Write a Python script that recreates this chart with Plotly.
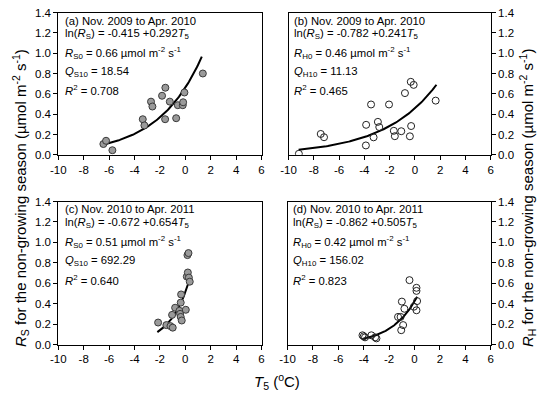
import numpy as np
import plotly.graph_objects as go

W, H = 550, 395          # browser window size
OFF = 8                  # default page (body) margin in the browser
FW, FH = W - OFF, H - OFF

# ---- data ----
a_T = [-6.45, -6.24, -5.74, -3.35, -3.22, -2.70, -2.59, -1.83, -1.57, -1.59, -1.22, -0.72, -0.59, -0.20, -0.17, -0.07, 1.38]
a_R = [0.106, 0.138, 0.045, 0.350, 0.289, 0.523, 0.475, 0.581, 0.660, 0.350, 0.523, 0.360, 0.488, 0.488, 0.517, 0.613, 0.800]

b_T = [-9.18, -7.45, -7.19, -3.47, -3.86, -3.88, -3.27, -2.93, -2.82, -2.05, -1.67, -1.59, -1.08, -0.79, -0.40, -0.30, -0.33, -0.10, 1.64]
b_R = [0.010, 0.205, 0.173, 0.495, 0.295, 0.092, 0.172, 0.324, 0.273, 0.495, 0.236, 0.183, 0.232, 0.607, 0.182, 0.283, 0.718, 0.688, 0.533]

c_T = [-2.14, -1.49, -1.17, -0.99, -1.04, -0.80, -0.46, -0.41, -0.36, -0.28, -0.36, -0.33, 0.04, 0.12, 0.20, 0.28, 0.35, 0.17, 0.25]
c_R = [0.215, 0.190, 0.180, 0.165, 0.290, 0.360, 0.330, 0.300, 0.270, 0.235, 0.410, 0.490, 0.340, 0.665, 0.705, 0.655, 0.615, 0.875, 0.895]

d_T = [-4.10, -4.00, -3.90, -3.40, -3.10, -3.00, -1.30, -1.10, -1.00, -1.05, -0.90, -0.80, -0.40, 0.15, 0.15, 0.20, 0.15, -0.05]
d_R = [0.090, 0.080, 0.070, 0.090, 0.070, 0.060, 0.270, 0.270, 0.420, 0.140, 0.190, 0.350, 0.630, 0.555, 0.525, 0.425, 0.335, 0.370]

# fitted exponential models ln(R) = b0 + b1*T5 (coefficients printed on the chart)
fit_b0 = [-0.415, -0.782, -0.672, -0.862]
fit_b1 = [0.292, 0.241, 0.654, 0.505]
fit_tmin = [-6.4, -9.2, -2.2, -4.1]
fit_tmax = [1.3, 1.7, 0.3, 0.2]

x_ticks = [-10, -8, -6, -4, -2, 0, 2, 4, 6]
x_tick_text = ["-10", "-8", "-6", "-4", "-2", "0", "2", "4", "6"]
y_ticks = [0.0, 0.2, 0.4, 0.6, 0.8, 1.0, 1.2, 1.4]
y_tick_text = ["0.0", "0.2", "0.4", "0.6", "0.8", "1.0", "1.2", "1.4"]

panel_labels = ["(a) Nov. 2009 to Apr. 2010", "(b) Nov. 2009 to Apr. 2010",
                "(c) Nov. 2010 to Apr. 2011", "(d) Nov. 2010 to Apr. 2011"]
eq_labels = ["ln(<i>R</i><sub>S</sub>) = -0.415 +0.292<i>T</i><sub>5</sub>",
             "ln(<i>R</i><sub>S</sub>) = -0.782 +0.241<i>T</i><sub>5</sub>",
             "ln(<i>R</i><sub>S</sub>) = -0.672 +0.654<i>T</i><sub>5</sub>",
             "ln(<i>R</i><sub>S</sub>) = -0.862 +0.505<i>T</i><sub>5</sub>"]
r0_labels = ["<i>R</i><sub>S0</sub> = 0.66 µmol m<sup>-2</sup> s<sup>-1</sup>",
             "<i>R</i><sub>H0</sub> = 0.46 µmol m<sup>-2</sup> s<sup>-1</sup>",
             "<i>R</i><sub>S0</sub> = 0.51 µmol m<sup>-2</sup> s<sup>-1</sup>",
             "<i>R</i><sub>H0</sub> = 0.42 µmol m<sup>-2</sup> s<sup>-1</sup>"]
q10_labels = ["<i>Q</i><sub>S10</sub> = 18.54", "<i>Q</i><sub>H10</sub> = 11.13",
              "<i>Q</i><sub>S10</sub> = 692.29", "<i>Q</i><sub>H10</sub> = 156.02"]
r2_labels = ["<i>R</i><sup>2</sup> = 0.708", "<i>R</i><sup>2</sup> = 0.465",
             "<i>R</i><sup>2</sup> = 0.640", "<i>R</i><sup>2</sup> = 0.823"]

# ---- layout geometry (pixels in the window) ----
px_left = [(58.3, 261.5), (288.5, 490.8), (58.3, 261.5), (287.5, 490.8)]
px_top = [(12.5, 154.8), (12.5, 154.8), (201.5, 344.5), (201.5, 344.5)]


def fx(px):
    return (px - OFF) / FW


def fy(py):
    return 1 - (py - OFF) / FH


FONT = "Liberation Sans, Arial, sans-serif"
fig = go.Figure()

series = [(a_T, a_R, True), (b_T, b_R, False), (c_T, c_R, True), (d_T, d_R, False)]
for i, (T, R, filled) in enumerate(series):
    xa = "x" if i == 0 else f"x{i+1}"
    ya = "y" if i == 0 else f"y{i+1}"
    tt = np.linspace(fit_tmin[i], fit_tmax[i], 100)
    fig.add_trace(go.Scatter(x=tt, y=np.exp(fit_b0[i] + fit_b1[i] * tt), mode="lines",
                             line=dict(color="black", width=2), xaxis=xa, yaxis=ya,
                             showlegend=False, hoverinfo="skip"))
    if filled:
        mk = dict(size=7, color="#9a9a9a", line=dict(color="#3a3a3a", width=1))
    else:
        mk = dict(size=7, color="rgba(255,255,255,0)", line=dict(color="#222222", width=1))
    fig.add_trace(go.Scatter(x=T, y=R, mode="markers", marker=mk, xaxis=xa, yaxis=ya,
                             showlegend=False))

layout = {}
for i in range(4):
    xs, xe = px_left[i]
    yt, yb = px_top[i]
    xk = "xaxis" if i == 0 else f"xaxis{i+1}"
    yk = "yaxis" if i == 0 else f"yaxis{i+1}"
    right = i in (1, 3)
    layout[xk] = dict(domain=[fx(xs), fx(xe)], range=[-10, 6], tickvals=x_ticks,
                      ticktext=x_tick_text, automargin=False, ticklabeloverflow="allow",
                      anchor="y" if i == 0 else f"y{i+1}",
                      showline=True, linecolor="black", linewidth=1, mirror=True,
                      ticks="outside", ticklen=4, tickcolor="black", showgrid=False,
                      zeroline=False, tickfont=dict(family=FONT, size=11.5, color="black"))
    layout[yk] = dict(domain=[fy(yb), fy(yt)], range=[0, 1.4], tickvals=y_ticks,
                      ticktext=y_tick_text, automargin=False, ticklabeloverflow="allow",
                      anchor="x" if i == 0 else f"x{i+1}",
                      side="right" if right else "left",
                      showline=True, linecolor="black", linewidth=1, mirror=True,
                      ticks="outside", ticklen=4, tickcolor="black", showgrid=False,
                      zeroline=False, tickfont=dict(family=FONT, size=11.5, color="black"))

annotations = []
text_x = [63, 292, 63, 291]
row_y = [(21, 33.5, 52.5, 71.5, 90.5), (21, 33.5, 52.5, 71.5, 90.5),
         (209.5, 222.5, 242, 261, 280), (209.5, 222.5, 242, 261, 280)]
for i in range(4):
    texts = [panel_labels[i], eq_labels[i], r0_labels[i], q10_labels[i], r2_labels[i]]
    for t, yy in zip(texts, row_y[i]):
        annotations.append(dict(text=t, x=fx(text_x[i]), y=fy(yy), xref="paper", yref="paper",
                                xanchor="left", yanchor="middle", showarrow=False,
                                font=dict(family=FONT, size=11.3, color="black")))

annotations.append(dict(text="<i>R</i><sub>S</sub> for the non-growing season (µmol m<sup>-2</sup> s<sup>-1</sup>)",
                        x=fx(20), y=fy(198), xref="paper", yref="paper", textangle=-90,
                        xanchor="center", yanchor="middle", showarrow=False,
                        font=dict(family=FONT, size=15, color="black")))
annotations.append(dict(text="<i>R</i><sub>H</sub> for the non-growing season (µmol m<sup>-2</sup> s<sup>-1</sup>)",
                        x=fx(527), y=fy(198), xref="paper", yref="paper", textangle=-90,
                        xanchor="center", yanchor="middle", showarrow=False,
                        font=dict(family=FONT, size=15, color="black")))
annotations.append(dict(text="<i>T</i><sub>5</sub> (<sup>o</sup>C)",
                        x=fx(277), y=fy(381), xref="paper", yref="paper",
                        xanchor="center", yanchor="middle", showarrow=False,
                        font=dict(family=FONT, size=15, color="black")))

fig.update_layout(width=FW, height=FH, margin=dict(l=0, r=0, t=0, b=0),
                  paper_bgcolor="white", plot_bgcolor="white",
                  annotations=annotations, **layout)

fig.write_html("out.html")
